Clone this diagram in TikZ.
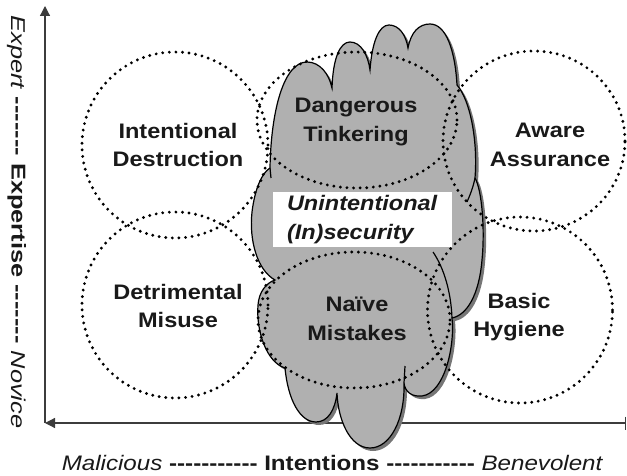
\documentclass[tikz,border=0pt]{standalone}
\usepackage{fontspec}
\setmainfont{Liberation Sans}[FakeStretch=1.12]
\newfontfamily\hfont{Liberation Sans}[FakeStretch=1.15]
\newfontfamily\vfont{Liberation Sans}[FakeStretch=1.27]
\usetikzlibrary{shapes.geometric,arrows.meta}
\definecolor{cloudgray}{RGB}{176,176,176}
\definecolor{shadowgray}{RGB}{118,118,118}
\definecolor{axisgray}{RGB}{60,60,60}
\newcommand\cloudshape[1]{\path[#1] (270,168)
 .. controls (271,110) and (284,62) .. (307,62) .. controls (320,62) and (329,74) .. (332,88)
 .. controls (333,58) and (340,42) .. (350,42) .. controls (361,42) and (368,55) .. (370,70)
 .. controls (372,42) and (379,25) .. (389,25) .. controls (399,25) and (406,35) .. (408,48)
 .. controls (411,32) and (419,24) .. (430,24) .. controls (446,24) and (455,50) .. (457,85)
 .. controls (470,100) and (478,140) .. (475,178)
 .. controls (482,190) and (485,230) .. (482,260) .. controls (479,295) and (467,315) .. (452,318)
 .. controls (455,345) and (445,393) .. (422,396) .. controls (412,397) and (405,392) .. (404,383)
 .. controls (405,420) and (390,448) .. (370,448) .. controls (350,448) and (338,420) .. (337,393)
 .. controls (335,410) and (328,422) .. (316,422) .. controls (300,422) and (288,400) .. (285,368)
 .. controls (266,362) and (256,330) .. (258,305) .. controls (259,292) and (266,283) .. (275,280)
 .. controls (257,270) and (249,240) .. (252,212) .. controls (255,188) and (262,173) .. (270,168)
 -- cycle;}
\newcommand\dashesA{-{}-{}-{}-{}-{}-{}-{}-{}-{}-{}-}
\newcommand\dashesB{-{}-{}-{}-{}-{}-{}-}
\begin{document}
\begin{tikzpicture}[x=1pt,y=-1pt,
  zone/.style={ellipse, draw=black, line width=3.2pt, dash pattern=on 0pt off 6.6pt, line cap=round, inner sep=0pt},
  lbl/.style={align=center, font=\bfseries\fontsize{21}{28.5}\selectfont, inner sep=0pt, text=black!90},
  axis/.style={draw=axisgray, line width=1.2pt},
  cloudline/.style={draw=black, line width=1.2pt}]
\useasboundingbox (0,0) rectangle (627,476);
% axes
\coordinate (O) at (45,423);
\coordinate (ytop) at (45,6);
\coordinate (xend) at (626,423);
\draw[axis, -{Triangle[length=10pt,width=10pt]}] (O) -- (ytop);
\draw[axis, {Triangle[length=10pt,width=10pt]}-{Bar[width=13pt]}] (O) -- (xend);
% cloud with shadow
\cloudshape{fill=shadowgray, shift={(3,3)}}
\cloudshape{fill=cloudgray, cloudline}
\draw[cloudline] (433,252) .. controls (444,268) and (451,292) .. (452,318);
\draw[cloudline] (405,366) -- (404,383);
\draw[cloudline] (475,178) .. controls (473,188) and (470,195) .. (467,202);
\draw[cloudline] (270,168) -- (271,178);
% zones
\node[zone, minimum width=186pt, minimum height=186pt] (zID) at (175,145) {};
\node[zone, minimum width=186pt, minimum height=186pt] (zDM) at (175,305) {};
\node[zone, minimum width=182pt, minimum height=180pt] (zAA) at (534,141) {};
\node[zone, minimum width=185pt, minimum height=186pt] (zBH) at (520,310) {};
\node[zone, minimum width=200pt, minimum height=136pt] (zDT) at (357,120) {};
\node[zone, minimum width=192pt, minimum height=136pt] (zNM) at (354,320) {};
% central box
\node[fill=white, minimum width=179pt, minimum height=55pt, inner xsep=14pt, inner ysep=0pt,
      text width=151pt, align=left, font=\bfseries\itshape\fontsize{21}{28.5}\selectfont, text=black!90]
      (box) at (362.5,219.5) {Unintentional\\(In)security};
% labels
\node[lbl] (tID) at (178,145) {Intentional\\Destruction};
\node[lbl] (tDT) at (356,122) {Dangerous\\Tinkering};
\node[lbl] (tAA) at (550,145) {Aware\\Assurance};
\node[lbl] (tDM) at (178,306) {Detrimental\\Misuse};
\node[lbl] (tNM) at (357,319) {Naïve\\Mistakes};
\node[lbl] (tBH) at (519,317) {Basic\\Hygiene};
% axis titles
\node[anchor=base, inner sep=0pt, font=\hfont\fontsize{21}{24}\selectfont, text=black!90] (xlab) at (332.5,470.5)
  {\textit{Malicious} \textbf{\dashesA} \textbf{Intentions} \textbf{\dashesA} \textit{Benevolent}};
\node[anchor=base, rotate=-90, inner sep=0pt, font=\vfont\fontsize{20}{22}\selectfont, text=black!90] (ylab) at (11.7,222)
  {\textit{Expert} \textbf{\dashesB} \textbf{Expertise} \textbf{\dashesB} \textit{Novice}};
\end{tikzpicture}
\end{document}
